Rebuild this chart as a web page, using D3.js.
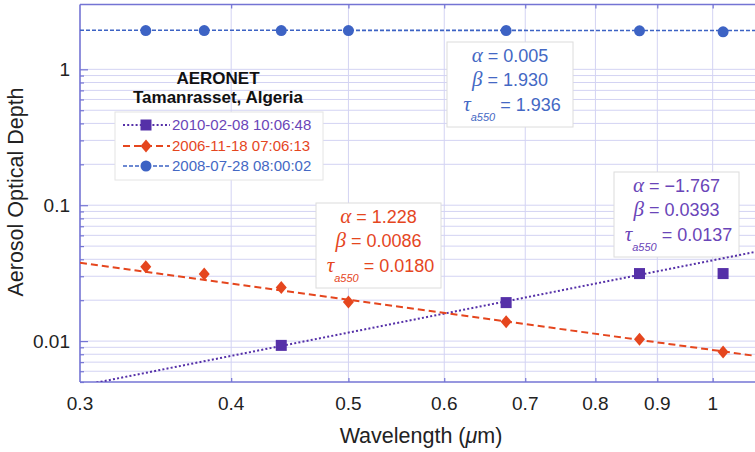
<!DOCTYPE html>
<html>
<head>
<meta charset="utf-8">
<script src="https://cdn.jsdelivr.net/npm/d3@7/dist/d3.min.js"></script>
<style>
  html, body { margin: 0; padding: 0; background: #ffffff; }
  svg { display: block; font-family: "Liberation Sans", Arial, Helvetica, sans-serif; }
</style>
</head>
<body>
<svg id="chart" width="755" height="452"></svg>
<script>
// AERONET spectral aerosol optical depth, Tamanrasset (Algeria)
const wavelengths = [0.34, 0.38, 0.44, 0.5, 0.675, 0.87, 1.02];
const wavelengths2010 = [0.44, 0.675, 0.87, 1.02];

const aod2010 = [0.0093, 0.0192, 0.0314, 0.0314];
const aod2006 = [0.0352, 0.0312, 0.0248, 0.0194, 0.0139, 0.0103, 0.0083];
const aod2008 = [1.93, 1.93, 1.93, 1.93, 1.93, 1.92, 1.89];

const seriesLabels = ["2010-02-08 10:06:48", "2006-11-18 07:06:13", "2008-07-28 08:00:02"];
// Angstrom power-law fit: tau = beta * lambda^(-alpha)
const fitAlpha = [-1.767, 1.228, 0.005];
const fitBeta = [0.0393, 0.0086, 1.930];
const fitTau550 = [0.0137, 0.0180, 1.936];

const xTickValues = [0.3, 0.4, 0.5, 0.6, 0.7, 0.8, 0.9, 1];
const xTickLabels = ["0.3", "0.4", "0.5", "0.6", "0.7", "0.8", "0.9", "1"];
const yTickValues = [0.01, 0.1, 1];
const yTickLabels = ["0.01", "0.1", "1"];

const colors = ["#5530a8", "#e5461e", "#3d63c4"];
const textColors = ["#6a45b8", "#e5461e", "#4468c4"];
const dashes = ["2,2.2", "7,4", "4,2"];
const markers = ["square", "diamond", "circle"];

const svg = d3.select("#chart");
const plot = { left: 80, right: 755, top: 4.5, bottom: 382 };

const x = d3.scaleLog().domain([0.3, 1.1]).range([80, 80 + 1210 * Math.log10(1.1 / 0.3)]);
const y = d3.scaleLog().domain([0.005, 3]).range([382, 4.5]);

svg.append("defs").append("clipPath").attr("id", "plotclip")
  .append("rect").attr("x", plot.left).attr("y", plot.top)
  .attr("width", plot.right - plot.left).attr("height", plot.bottom - plot.top);

const gridColor = "#d3d3f3";
const axisColor = "#7474d4";

// horizontal grid at every 1..9 x 10^k up to 1
const yMinor = [];
[0.001, 0.01, 0.1].forEach(d => { for (let k = 1; k <= 9; k++) yMinor.push(+(k * d).toPrecision(2)); });
yMinor.push(1);
const yGrid = yMinor.filter(v => v > 0.005 && v <= 1);

const grid = svg.append("g").attr("clip-path", "url(#plotclip)");
grid.selectAll("line.h").data(yGrid).join("line")
  .attr("x1", plot.left).attr("x2", plot.right)
  .attr("y1", d => y(d)).attr("y2", d => y(d))
  .attr("stroke", gridColor).attr("stroke-width", 1);
grid.selectAll("line.v").data(xTickValues.slice(1)).join("line")
  .attr("x1", d => x(d)).attr("x2", d => x(d))
  .attr("y1", plot.top).attr("y2", plot.bottom)
  .attr("stroke", gridColor).attr("stroke-width", 1);

// axes frame and ticks
const axes = svg.append("g");
const yAxis = d3.axisRight(y).tickValues(yGrid.concat([0.005]))
  .tickSize(4).tickFormat("");
axes.append("g").attr("transform", `translate(${plot.left},0)`).call(yAxis)
  .call(g => g.select(".domain").remove())
  .call(g => g.selectAll(".tick line").attr("stroke", axisColor).attr("stroke-width", 1.2)
    .attr("x2", d => yTickValues.includes(d) ? 8 : 4));
axes.append("line").attr("x1", plot.left).attr("x2", plot.left)
  .attr("y1", plot.top).attr("y2", plot.bottom).attr("stroke", axisColor).attr("stroke-width", 1.6);
axes.append("line").attr("x1", plot.left).attr("x2", plot.right)
  .attr("y1", plot.bottom).attr("y2", plot.bottom).attr("stroke", axisColor).attr("stroke-width", 1.6);
axes.append("line").attr("x1", plot.left).attr("x2", plot.right)
  .attr("y1", plot.top).attr("y2", plot.top).attr("stroke", axisColor).attr("stroke-width", 1.6);

const xBottom = d3.axisTop(x).tickValues(xTickValues.slice(1)).tickSize(4).tickFormat("");
axes.append("g").attr("transform", `translate(0,${plot.bottom})`).call(xBottom)
  .call(g => g.select(".domain").remove())
  .call(g => g.selectAll(".tick line").attr("stroke", axisColor).attr("stroke-width", 1.2));
const xTop = d3.axisBottom(x).tickValues(xTickValues.slice(1)).tickSize(4).tickFormat("");
axes.append("g").attr("transform", `translate(0,${plot.top})`).call(xTop)
  .call(g => g.select(".domain").remove())
  .call(g => g.selectAll(".tick line").attr("stroke", axisColor).attr("stroke-width", 1.2));

// tick labels
svg.append("g").selectAll("text").data(xTickValues).join("text")
  .attr("x", d => x(d)).attr("y", 410)
  .attr("text-anchor", "middle").attr("font-size", 19).attr("fill", "#222")
  .text((d, i) => xTickLabels[i]);
svg.append("g").selectAll("text").data(yTickValues).join("text")
  .attr("x", 70).attr("y", d => y(d)).attr("dy", "0.36em")
  .attr("text-anchor", "end").attr("font-size", 19).attr("fill", "#222")
  .text((d, i) => yTickLabels[i]);

// axis titles
const xTitle = svg.append("text").attr("x", 421).attr("y", 443)
  .attr("text-anchor", "middle").attr("font-size", 21.5).attr("fill", "#222");
xTitle.append("tspan").text("Wavelength (");
xTitle.append("tspan").attr("font-style", "italic").text("\u03bc");
xTitle.append("tspan").text("m)");
svg.append("text").attr("transform", "translate(23,192) rotate(-90)")
  .attr("text-anchor", "middle").attr("font-size", 21.5).attr("fill", "#222")
  .text("Aerosol Optical Depth");

// fit parameter boxes
const fmtNum = v => (Math.abs(v) >= 1 ? Math.abs(v).toFixed(3) : Math.abs(v).toFixed(4));
const fmtAlpha = v => (v < 0 ? "\u2212" : "") + Math.abs(v).toFixed(3);
const boxes = [
  { x: 614, y: 172, w: 125, h: 85 },
  { x: 316, y: 203, w: 125, h: 85 },
  { x: 447, y: 42, w: 126, h: 85 }
];
const greek = "'Liberation Serif', 'DejaVu Serif', serif";
boxes.forEach((b, i) => {
  const g = svg.append("g");
  g.append("rect").attr("x", b.x).attr("y", b.y).attr("width", b.w).attr("height", b.h)
    .attr("fill", "#ffffff").attr("stroke", "#dcdcdc").attr("stroke-width", 1);
  const cx = b.x + b.w / 2;
  const t1 = g.append("text").attr("x", cx).attr("y", b.y + 20).attr("text-anchor", "middle")
    .attr("font-size", 18).attr("fill", textColors[i]);
  t1.append("tspan").attr("font-family", greek).attr("font-style", "italic").attr("font-size", 21).text("\u03b1");
  t1.append("tspan").text(" = " + fmtAlpha(fitAlpha[i]));
  const t2 = g.append("text").attr("x", cx).attr("y", b.y + 44).attr("text-anchor", "middle")
    .attr("font-size", 18).attr("fill", textColors[i]);
  t2.append("tspan").attr("font-family", greek).attr("font-style", "italic").attr("font-size", 21).text("\u03b2");
  t2.append("tspan").text(" = " + fmtNum(fitBeta[i]));
  const t3 = g.append("text").attr("x", cx + 2).attr("y", b.y + 69).attr("text-anchor", "middle")
    .attr("font-size", 18).attr("fill", textColors[i]);
  t3.append("tspan").attr("font-family", greek).attr("font-style", "italic").attr("font-size", 21).text("\u03c4");
  t3.append("tspan").attr("dy", 10).attr("font-size", 11).attr("font-style", "italic").text("a550");
  t3.append("tspan").attr("dy", -10).text(" = " + fmtNum(fitTau550[i]));
});

// power-law fit lines through the whole wavelength range
const data = svg.append("g").attr("clip-path", "url(#plotclip)");
const line = d3.line().x(d => x(d[0])).y(d => y(d[1]));
[0, 1, 2].forEach(i => {
  const ends = x.domain().map(l => [l, fitBeta[i] * Math.pow(l, -fitAlpha[i])]);
  data.append("path").datum(ends).attr("d", line)
    .attr("fill", "none").attr("stroke", colors[i])
    .attr("stroke-width", i === 2 ? 1.6 : 2)
    .attr("stroke-dasharray", dashes[i]);
});

function drawMarker(g, type, cx, cy, color) {
  if (type === "square") {
    g.append("rect").attr("x", cx - 5.5).attr("y", cy - 5.5).attr("width", 11).attr("height", 11).attr("fill", color);
  } else if (type === "diamond") {
    g.append("path").attr("d", `M${cx},${cy - 6.5}L${cx + 5.5},${cy}L${cx},${cy + 6.5}L${cx - 5.5},${cy}Z`).attr("fill", color);
  } else {
    g.append("circle").attr("cx", cx).attr("cy", cy).attr("r", 5.5).attr("fill", color);
  }
}
const seriesX = [wavelengths2010, wavelengths, wavelengths];
const seriesY = [aod2010, aod2006, aod2008];
[0, 1, 2].forEach(i => {
  seriesX[i].forEach((l, j) => drawMarker(data, markers[i], x(l), y(seriesY[i][j]), colors[i]));
});

// legend
const leg = svg.append("g");
leg.append("text").attr("x", 218).attr("y", 84).attr("text-anchor", "middle")
  .attr("font-size", 17).attr("font-weight", "bold").attr("fill", "#111").text("AERONET");
leg.append("text").attr("x", 218).attr("y", 103).attr("text-anchor", "middle")
  .attr("font-size", 17).attr("font-weight", "bold").attr("fill", "#111").text("Tamanrasset, Algeria");
leg.append("rect").attr("x", 115).attr("y", 112).attr("width", 208).attr("height", 68)
  .attr("fill", "#ffffff").attr("stroke", "#e4e4e4").attr("stroke-width", 1);
const rowY = [125, 146, 166];
[0, 1, 2].forEach(i => {
  leg.append("line").attr("x1", 123).attr("x2", 170).attr("y1", rowY[i]).attr("y2", rowY[i])
    .attr("stroke", colors[i]).attr("stroke-width", i === 2 ? 1.6 : 2).attr("stroke-dasharray", dashes[i]);
  drawMarker(leg, markers[i], 146, rowY[i], colors[i]);
  leg.append("text").attr("x", 172).attr("y", rowY[i]).attr("dy", "0.36em")
    .attr("font-size", 15).attr("fill", textColors[i]).text(seriesLabels[i]);
});
</script>
</body>
</html>
